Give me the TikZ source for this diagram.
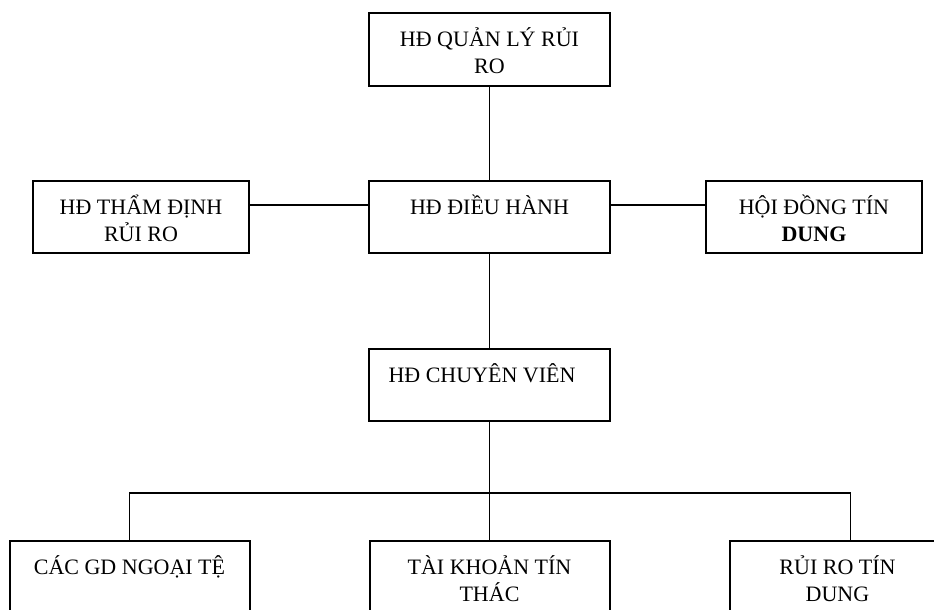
\documentclass[tikz,border=0pt]{standalone}
\usepackage{fontspec}
\setmainfont{Liberation Serif}
\usetikzlibrary{positioning}

\begin{document}
\begin{tikzpicture}[
  font=\fontsize{11}{13.5}\selectfont,
  unit/.style={draw, line width=1pt, minimum height=36pt, align=center,
               inner sep=0pt, outer sep=0pt, text height=24.5pt, text depth=0pt},
  wideunit/.style={unit, minimum width=120.5pt},
  sideunit/.style={unit, minimum width=108pt},
  lowunit/.style={unit, minimum width=120pt},
  link/.style={line width=0.8pt}
]

\useasboundingbox (0,0) rectangle (467pt,-305pt);
\clip (0,0) rectangle (467pt,-305pt);

\node[wideunit, minimum height=36.5pt] (quanly) at (244.75pt,-24.75pt) {HĐ QUẢN LÝ RỦI\\RO};
\node[wideunit, below=47.5pt of quanly] (dieuhanh) {HĐ ĐIỀU HÀNH\\ \mbox{}};
\node[sideunit, left=60pt of dieuhanh] (thamdinh) {HĐ THẨM ĐỊNH\\RỦI RO};
\node[sideunit, right=48pt of dieuhanh] (tindung) {HỘI ĐỒNG TÍN\\\textbf{DUNG}};
\node[wideunit, below=48pt of dieuhanh] (chuyenvien) {HĐ CHUYÊN VIÊN\hspace*{7.5pt}\\ \mbox{}};

\node[lowunit, below=60pt of chuyenvien] (taikhoan) {TÀI KHOẢN TÍN\\THÁC};
\node[lowunit, left=60pt of taikhoan] (ngoaite) {CÁC GD NGOẠI TỆ\\ \mbox{}};
\node[sideunit, right=60pt of taikhoan] (ruiro) {RỦI RO TÍN\\DUNG};

\draw[link] (quanly) -- (dieuhanh);
\draw[link] ([yshift=6pt]thamdinh.east) -- ([yshift=6pt]dieuhanh.west);
\draw[link] ([yshift=6pt]dieuhanh.east) -- ([yshift=6pt]tindung.west);
\draw[link] (dieuhanh) -- (chuyenvien);
\draw[link] (chuyenvien) -- (taikhoan);
\draw[link] (ngoaite.north) -- ++(0,24pt) -| ([xshift=6.5pt]ruiro.north);
\end{tikzpicture}
\end{document}
